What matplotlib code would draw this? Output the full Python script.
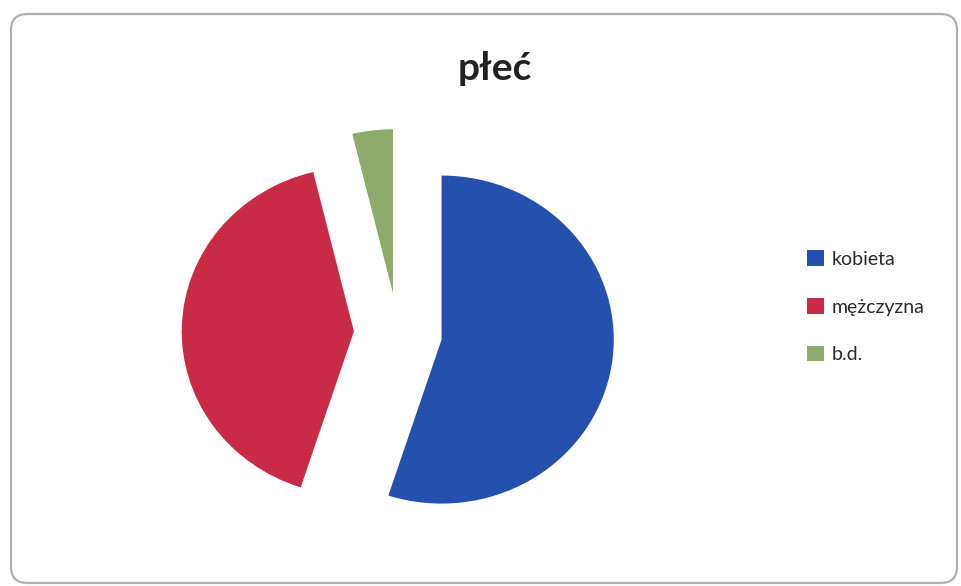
import matplotlib
matplotlib.use("Agg")
from matplotlib import pyplot as plt
from matplotlib.patches import FancyBboxPatch, Patch

title = "płeć"
labels = ["kobieta", "mężczyzna", "b.d."]
shares = [55.0, 41.2, 3.8]
colors = ["#2451ae", "#c92a45", "#8fab6c"]

W, H = 962, 586
sx = 1.05  # the scanned pie is a little wider than tall

fig = plt.figure(figsize=(W / 100, H / 100), dpi=100)
ax = fig.add_axes([0, 0, 1, 1])

# outer frame of the chart area
frame = FancyBboxPatch((11 / sx, 3), 946 / sx, 569, boxstyle="round,pad=0,rounding_size=16",
                       facecolor="white", edgecolor="#b0b0b0", linewidth=1.6, zorder=0)
ax.add_patch(frame)

# explode is in data units here (about pixels)
wedges, _ = ax.pie(shares, colors=colors, startangle=90, counterclock=False,
                   explode=[42, 42, 40], radius=164, center=(398 / sx, H - 333),
                   wedgeprops=dict(edgecolor="none"), frame=True)
ax.set_xlim(0, W / sx)
ax.set_ylim(0, H)
ax.set_aspect(1 / sx)
ax.axis("off")

ax.text(495 / sx, H - 80, title, ha="center", va="baseline", fontsize=28,
        fontweight="bold", family=["Lato", "DejaVu Sans"], color="#222222")

handles = [Patch(facecolor=c, edgecolor="none") for c in colors]
leg = fig.legend(handles, labels, loc="upper left", bbox_to_anchor=(790 / W, 1 - 233 / H),
                 frameon=False, handlelength=0.85, handleheight=0.85,
                 handletextpad=0.4, labelspacing=1.55,
                 prop={"family": ["Lato", "DejaVu Sans"], "size": 14})
for t in leg.get_texts():
    t.set_color("#2a2a2a")

fig.savefig("out.png", dpi=100)
